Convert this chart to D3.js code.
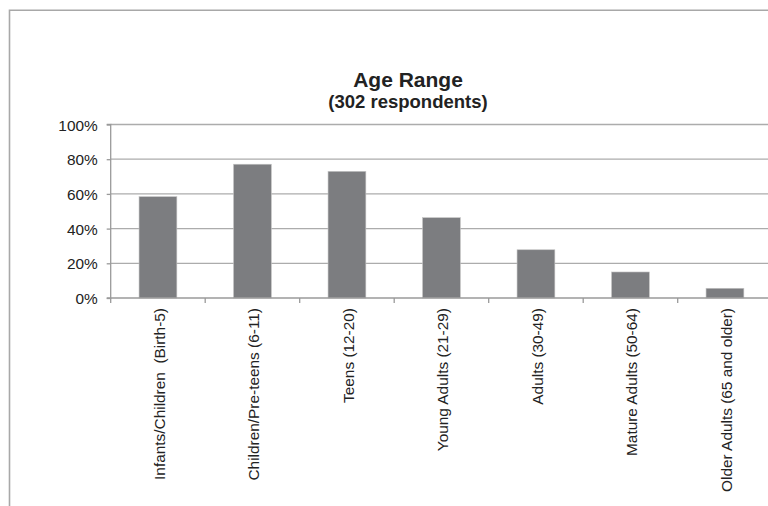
<!DOCTYPE html>
<html><head><meta charset="utf-8">
<script src="https://cdn.jsdelivr.net/npm/d3@7"></script>
<style>body{margin:0;background:#fff}svg{display:block}text{font-family:"Liberation Sans",Arial,sans-serif;fill:#222}</style>
</head><body>
<svg id="c" width="768" height="506"></svg>
<script>
const categories = ["Infants/Children  (Birth-5)","Children/Pre-teens (6-11)","Teens (12-20)","Young Adults (21-29)","Adults (30-49)","Mature Adults (50-64)","Older Adults (65 and older)"];
const values = [0.584, 0.771, 0.730, 0.463, 0.278, 0.150, 0.056];
const yTicks = [0, 0.2, 0.4, 0.6, 0.8, 1.0];
const titleText = "Age Range";
const subtitleText = "(302 respondents)";

(function(){
const svg = d3.select("#c");
const pLeft = 110.7, pRight = 772.2, pBottom = 298, pTop = 124.5;
const x = d3.scaleBand().domain(categories).range([pLeft, pRight]).paddingInner(0.6).paddingOuter(0.3);
const y = d3.scaleLinear().domain([0, 1]).range([pBottom, pTop]);

// outer border
svg.append("path").attr("d", "M9.5,506 V10.3 H768").attr("fill","none").attr("stroke","#a8a8a8").attr("stroke-width",1.6);

// gridlines
svg.append("g").selectAll("line").data(yTicks.filter(d=>d>0)).join("line")
  .attr("x1", pLeft).attr("x2", pRight).attr("y1", d=>y(d)).attr("y2", d=>y(d))
  .attr("stroke","#acacac").attr("stroke-width",1.3);

// y axis
const yAxis = d3.axisLeft(y).tickValues(yTicks).tickFormat(d3.format(".0%")).tickSize(4).tickPadding(9);
const gy = svg.append("g").attr("transform",`translate(${pLeft},0)`).call(yAxis);
gy.select(".domain").attr("stroke","#9a9a9a").attr("stroke-width",1.3).attr("d",`M-4,${pTop}H0V${pBottom}H-4`);
gy.selectAll(".tick line").attr("stroke","#9a9a9a").attr("stroke-width",1.3);
gy.selectAll(".tick text").attr("font-size",15.4).attr("fill","#222").attr("font-family","Liberation Sans, Arial, sans-serif").attr("dy","0.36em");

// bars
svg.append("g").selectAll("rect").data(values).join("rect")
  .attr("x",(d,i)=>x(categories[i])).attr("width",x.bandwidth())
  .attr("y",d=>y(d)).attr("height",d=>pBottom-y(d))
  .attr("fill","#7c7d80").attr("stroke","#c4c4c4").attr("stroke-width",0.6);

// x axis line
svg.append("line").attr("x1",pLeft).attr("x2",pRight).attr("y1",pBottom).attr("y2",pBottom).attr("stroke","#9a9a9a").attr("stroke-width",1.3);
// category boundary ticks
const step = x.step();
svg.append("g").selectAll("line").data(d3.range(categories.length+1)).join("line")
  .attr("x1",i=>pLeft+i*step).attr("x2",i=>pLeft+i*step).attr("y1",pBottom).attr("y2",pBottom+5)
  .attr("stroke","#9a9a9a").attr("stroke-width",1.3);

// category labels
svg.append("g").selectAll("text").data(categories).join("text")
  .attr("transform",d=>`translate(${x(d)+x.bandwidth()/2+1.5},308) rotate(-90)`)
  .attr("text-anchor","end").attr("dy","0.36em").attr("font-size",15.4).style("white-space","pre")
  .text(d=>d);

// titles
const cx = 408;
svg.append("text").attr("x",cx).attr("y",87).attr("text-anchor","middle").attr("font-weight","bold").attr("font-size",21).text(titleText);
svg.append("text").attr("x",cx).attr("y",108).attr("text-anchor","middle").attr("font-weight","bold").attr("font-size",18.5).text(subtitleText);
})();
</script>
</body></html>
